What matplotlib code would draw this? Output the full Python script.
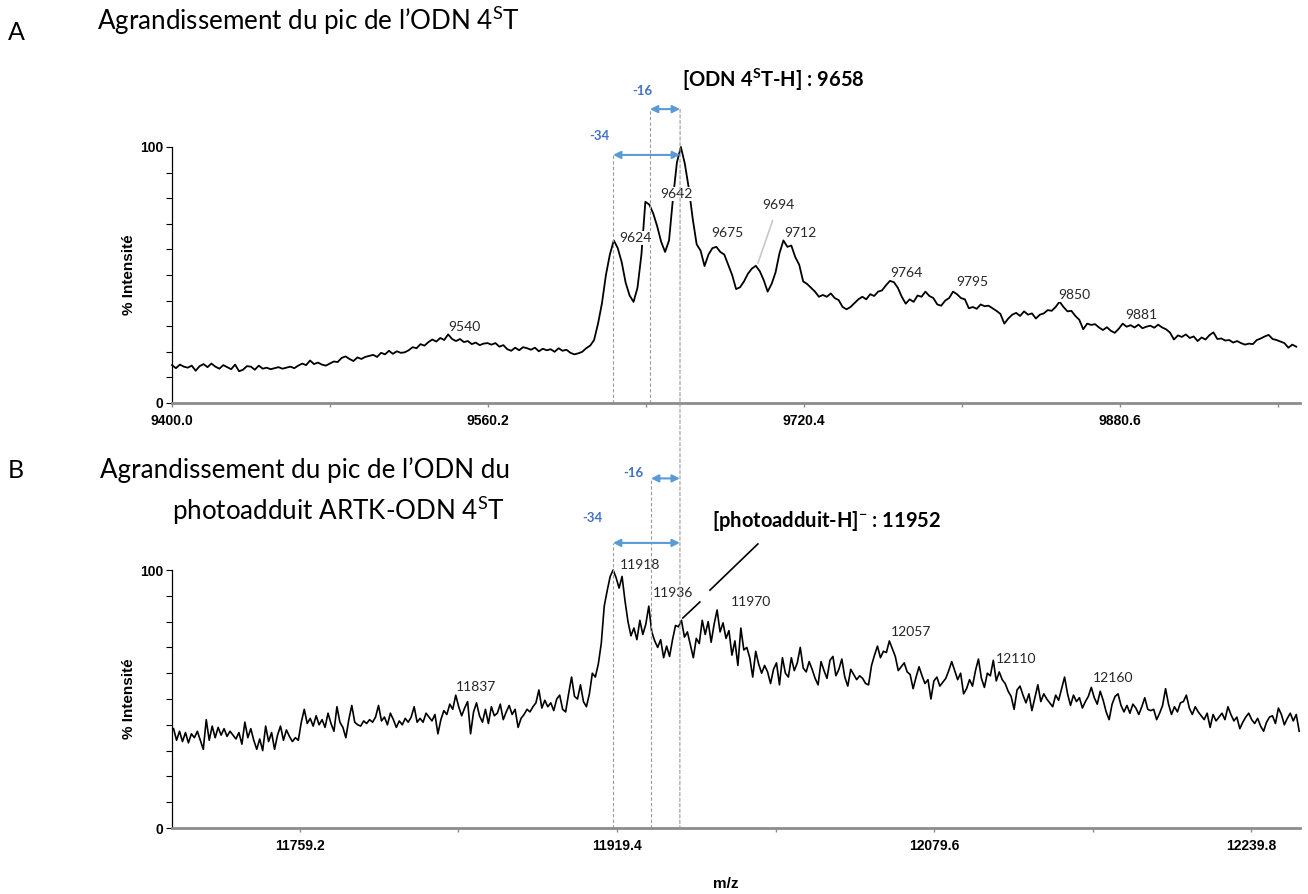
import numpy as np
import matplotlib.pyplot as plt
from matplotlib.patches import ConnectionPatch

plt.rcParams['font.family'] = ['Lato', 'DejaVu Sans']
plt.rcParams['mathtext.fontset'] = 'custom'
plt.rcParams['mathtext.rm'] = 'Lato'
plt.rcParams['mathtext.bf'] = 'Lato:bold'

# ---- spectrum A: ODN 4ST, sampled every 2 m/z from 9400 ----
int_a = [
    14.8, 13.6, 15.0, 14.2, 13.8, 14.6, 12.6, 14.4, 15.2, 14.0,
    15.4, 14.2, 13.4, 14.8, 14.0, 13.2, 15.0, 12.4, 13.0, 14.4,
    14.2, 13.0, 14.6, 13.4, 13.8, 13.2, 13.6, 14.0, 13.4, 13.8,
    14.2, 13.6, 14.6, 15.4, 14.8, 16.6, 15.2, 15.8, 15.0, 14.6,
    15.4, 16.2, 16.0, 17.6, 18.2, 17.2, 16.4, 17.8, 17.2, 18.0,
    18.4, 18.8, 18.0, 19.6, 19.0, 20.4, 19.2, 20.2, 19.6, 19.8,
    20.6, 21.8, 21.4, 23.0, 22.4, 23.8, 24.8, 24.0, 25.4, 24.6,
    26.8, 25.0, 24.2, 25.0, 23.8, 24.2, 23.0, 23.6, 22.6, 23.2,
    23.4, 22.8, 23.4, 22.0, 22.6, 21.0, 20.4, 21.6, 20.6, 21.8,
    21.4, 20.8, 21.6, 20.2, 21.2, 20.6, 21.0, 20.0, 21.4, 20.4,
    20.8, 19.6, 19.0, 19.4, 20.0, 21.4, 22.4, 24.6, 31.0, 39.0,
    50.0, 58.0, 63.5, 60.5, 55.0, 47.0, 42.0, 39.5, 45.0, 58.0,
    78.6, 77.5, 74.0, 69.0, 63.0, 59.0, 63.5, 80.0, 94.0, 100.0,
    93.5, 84.0, 72.0, 62.0, 59.5, 53.5, 58.0, 60.5, 61.0, 59.0,
    58.0, 54.0, 50.0, 44.5, 45.2, 47.5, 50.5, 52.5, 53.6, 51.5,
    48.0, 43.5, 46.5, 51.0, 58.5, 63.5, 61.0, 61.5, 57.0, 54.0,
    47.5, 46.5, 45.0, 43.5, 41.5, 42.2, 41.5, 42.8, 41.0, 40.2,
    37.5, 36.6, 37.5, 39.0, 40.5, 41.5, 40.5, 42.5, 41.8, 43.5,
    44.0, 46.0, 47.7, 47.2, 45.0, 41.5, 38.8, 40.5, 39.5, 42.0,
    41.5, 43.5, 41.8, 41.0, 38.5, 38.0, 40.0, 41.0, 43.5, 42.5,
    41.0, 40.5, 37.0, 37.5, 36.8, 38.5, 37.8, 38.0, 37.0, 36.0,
    34.8, 31.0, 33.0, 34.5, 35.2, 34.0, 35.8, 34.5, 35.0, 33.0,
    34.5, 35.0, 36.3, 36.0, 37.5, 39.6, 37.5, 35.8, 36.0, 34.0,
    32.5, 28.8, 31.0, 30.5, 30.8, 29.5, 28.5, 29.6, 28.2, 27.4,
    29.0, 31.0, 29.8, 30.4, 29.5, 30.6, 29.2, 29.8, 30.2, 29.4,
    30.6, 29.5, 28.8, 27.5, 24.8, 26.4, 25.8, 26.8, 25.4, 26.0,
    24.2, 25.6, 24.8, 26.5, 27.6, 25.0, 25.2, 24.4, 24.6, 23.6,
    24.2, 23.4, 22.8, 23.2, 23.0, 24.6, 25.2, 26.0, 26.6, 25.0,
    24.6, 24.0, 23.4, 21.6, 22.8, 22.0,
]
mz_a = 9400.0 + 2.0 * np.arange(len(int_a))

# ---- spectrum B: photoadduct ARTK-ODN 4ST, sampled every 1.5 m/z ----
int_b = [
    38.5, 34.0, 37.5, 33.5, 37.0, 33.0, 36.5, 35.0, 37.5, 34.0,
    30.5, 42.0, 34.0, 39.5, 35.0, 39.0, 36.0, 38.5, 35.5, 37.5,
    36.0, 34.5, 37.0, 32.5, 41.0, 35.0, 38.5, 34.0, 30.5, 34.5,
    30.0, 39.5, 33.5, 37.0, 30.5, 36.0, 39.5, 34.0, 38.0, 35.5,
    33.5, 35.0, 34.0, 41.0, 46.0, 40.5, 42.5, 39.5, 43.5, 40.0,
    42.0, 39.0, 44.5, 40.5, 37.5, 47.0, 41.0, 39.0, 35.0, 42.0,
    47.5, 41.0, 40.0, 39.5, 41.5, 40.5, 42.0, 41.0, 43.0, 47.5,
    41.5, 43.0, 40.0, 44.5, 42.0, 39.0, 41.5, 40.0, 42.5, 41.0,
    43.0, 47.0, 41.0, 42.5, 41.0, 44.5, 43.0, 41.5, 44.0, 36.5,
    42.0, 45.5, 44.0, 48.0, 46.0, 51.5, 47.0, 43.5, 46.5, 49.0,
    36.5, 45.0, 48.5, 43.5, 41.0, 46.0, 40.5, 47.0, 43.5, 44.5,
    48.0, 42.0, 45.0, 47.5, 44.0, 46.0, 39.0, 42.5, 44.0, 46.0,
    45.0, 47.0, 48.5, 53.5, 46.5, 49.5, 47.0, 48.5, 45.5, 50.0,
    51.5, 46.0, 45.0, 52.0, 58.5, 51.0, 50.0, 55.5, 49.0, 47.0,
    52.0, 60.0, 58.5, 63.5, 71.5, 86.0, 92.0, 97.5, 100.0, 97.0,
    93.0, 97.5, 88.0, 80.0, 74.5, 77.5, 73.0, 80.5, 75.0, 79.0,
    86.0, 76.0, 72.5, 70.0, 73.0, 66.0, 70.5, 66.5, 73.0, 78.5,
    78.0, 80.5, 74.0, 76.0, 71.0, 66.0, 73.5, 71.5, 80.5, 75.0,
    80.0, 72.0, 79.0, 84.5, 76.0, 79.5, 73.5, 76.5, 67.0, 72.5,
    63.0, 77.5, 69.0, 70.0, 66.0, 58.5, 68.5, 63.5, 60.0, 63.0,
    60.5, 56.0, 61.5, 64.0, 55.5, 66.0, 60.0, 58.5, 66.0, 61.0,
    64.0, 70.0, 62.0, 60.5, 64.5, 61.5, 58.0, 55.5, 64.5, 61.0,
    58.0, 65.0, 66.5, 59.0, 61.5, 65.5, 58.5, 55.0, 61.5, 59.5,
    57.5, 59.0, 58.0, 56.0, 55.5, 63.0, 67.0, 70.5, 66.0, 68.5,
    68.0, 72.5, 69.5, 66.5, 61.0, 62.5, 64.0, 60.5, 59.5, 54.0,
    58.5, 62.5, 59.0, 56.0, 57.5, 50.0, 57.0, 58.5, 55.0, 56.5,
    58.0, 61.0, 64.5, 61.0, 57.5, 60.0, 52.0, 54.0, 57.5, 55.0,
    61.0, 65.5, 58.0, 54.5, 60.0, 59.0, 65.0, 57.0, 60.5, 57.5,
    56.0, 53.0, 51.0, 46.0, 53.5, 55.0, 51.5, 48.5, 52.0, 45.5,
    50.5, 55.5, 49.0, 52.0, 50.0, 48.5, 47.0, 51.5, 49.5, 54.0,
    58.5, 52.0, 47.5, 51.5, 49.0, 50.5, 46.5, 49.0, 51.0, 54.5,
    50.5, 48.0, 53.0, 49.5, 45.0, 42.0, 48.0, 51.0, 52.0, 47.5,
    45.0, 47.5, 44.5, 48.0, 46.5, 44.0, 47.0, 50.5, 46.0, 45.5,
    46.0, 42.0, 44.5, 47.5, 54.0, 48.0, 44.0, 47.0, 45.0, 48.5,
    49.0, 51.5, 46.5, 44.0, 47.0, 45.0, 43.5, 42.0, 44.5, 39.0,
    44.0, 41.5, 43.0, 44.5, 42.0, 47.0, 44.0, 41.5, 43.0, 38.5,
    41.0, 43.0, 44.5, 42.0, 40.5, 42.5, 39.5, 37.5, 41.0, 43.0,
    43.5, 40.5, 46.5, 44.0, 40.0, 42.5, 44.5, 41.5, 44.0, 37.5,
]
mz_b = 11695.5 + 1.5 * np.arange(len(int_b))

# axis ranges and ticks
xlim_a = (9400.0, 9971.9)
xlim_b = (11694.7, 12264.4)
ticks_a = [9400.0, 9560.2, 9720.4, 9880.6]
ticks_b = [11759.2, 11919.4, 12079.6, 12239.8]

# peak labels (text, x, y of label)
labels_a = [("9540", 9548.3, 29.8), ("9624", 9635.2, 64.5), ("9642", 9655.5, 81.6),
            ("9675", 9681.4, 66.4), ("9694", 9707.2, 77.3), ("9712", 9718.6, 66.5),
            ("9764", 9772.1, 50.8), ("9795", 9805.6, 47.3), ("9850", 9857.3, 42.2),
            ("9881", 9891.3, 34.4)]
labels_b = [("11918", 11931.0, 101.9), ("11936", 11947.7, 91.1), ("11837", 11848.0, 54.8),
            ("11970", 11987.1, 87.7), ("12057", 12067.9, 76.0), ("12110", 12120.9, 65.5),
            ("12160", 12170.2, 58.1)]

# mass differences marked with arrows
marks_a = [9623.6, 9642.3, 9657.6]
marks_b = [11917.4, 11936.6, 11951.2]

BLUE_TXT = '#4472c4'
BLUE_ARR = '#5b9bd5'
DASH = '#9a9a9a'
AXFONT = 'Liberation Sans'

fig = plt.figure(figsize=(13.08, 8.94), dpi=100)
W, H = 1308.0, 894.0
ax_a = fig.add_axes([172 / W, 1 - 403 / H, 1128 / W, 256 / H])
ax_b = fig.add_axes([172 / W, 1 - 828 / H, 1128 / W, 258 / H])


def style_axes(ax, xlim, ticks):
    ax.spines['top'].set_visible(False)
    ax.spines['right'].set_visible(False)
    ax.spines['bottom'].set_color('#8c8c8c')
    ax.spines['bottom'].set_linewidth(2)
    ax.spines['left'].set_linewidth(0.9)
    ax.set_xticks(ticks)
    ax.set_xticklabels([f'{t:.1f}' for t in ticks], fontfamily=AXFONT,
                       fontweight='bold', fontsize=10)
    step = ticks[1] - ticks[0]
    ax.set_xticks([t - step / 2 for t in ticks] + [ticks[-1] + step / 2], minor=True)
    ax.tick_params(axis='x', which='both', length=3, width=1, color='#8c8c8c', pad=5)
    ax.set_yticks([0, 100])
    ax.set_yticklabels(['0', '100'], fontfamily=AXFONT, fontweight='bold', fontsize=10)
    ax.set_yticks(np.arange(10, 100, 10), minor=True)
    ax.tick_params(axis='y', which='both', length=4, width=0.8, pad=2)
    ax.set_ylabel('% Intensité', fontfamily=AXFONT, fontweight='bold', fontsize=11)
    ax.yaxis.set_label_coords(-36 / 1128, 0.5)
    # limits last, so the tick lists cannot widen them
    ax.set_xlim(*xlim)
    ax.set_ylim(0, 100)


style_axes(ax_a, xlim_a, ticks_a)
style_axes(ax_b, xlim_b, ticks_b)

ax_a.plot(mz_a, int_a, color='black', lw=1.3, clip_on=False)
ax_b.plot(mz_b, int_b, color='black', lw=1.2, clip_on=False)

# peak labels in A sit on a white patch so they mask the trace behind them
for txt, x, y in labels_a:
    ax_a.text(x, y, txt, fontsize=10, color='#262626', ha='center', va='center',
              bbox=dict(facecolor='white', edgecolor='none', pad=0.5), zorder=3)
for txt, x, y in labels_b:
    ax_b.text(x, y, txt, fontsize=10, color='#262626', ha='center', va='center')


def dashed(ax, x, y_top):
    ax.plot([x, x], [0, y_top], color=DASH, lw=0.8, ls=(0, (3, 2)), clip_on=False)


def span_arrow(ax, x1, x2, y):
    ax.annotate('', xy=(x2, y), xytext=(x1, y), annotation_clip=False,
                arrowprops=dict(arrowstyle='<|-|>', color=BLUE_ARR, lw=1.5,
                                mutation_scale=11, shrinkA=0, shrinkB=0))


# panel A differences
dashed(ax_a, marks_a[0], 96.9)
dashed(ax_a, marks_a[1], 114.8)
span_arrow(ax_a, marks_a[1], marks_a[2], 114.8)
span_arrow(ax_a, marks_a[0], marks_a[2], 96.9)
ax_a.text(9638.3, 121.9, '-16', color=BLUE_TXT, fontsize=9.5, fontweight='bold',
          ha='center', va='center')
ax_a.text(9616.5, 104.3, '-34', color=BLUE_TXT, fontsize=9.5, fontweight='bold',
          ha='center', va='center')
ax_a.text(9658.6, 126.2, r'[ODN 4$^{\mathbf{S}}$T-H] : 9658', fontsize=14.5,
          fontweight='bold', ha='left', va='center')
ax_a.plot([9704.5, 9697.1], [71.2, 54.7], color='#c8c8c8', lw=1.2)

# panel B differences
dashed(ax_b, marks_b[0], 110.5)
dashed(ax_b, marks_b[1], 135.5)
span_arrow(ax_b, marks_b[1], marks_b[2], 135.5)
span_arrow(ax_b, marks_b[0], marks_b[2], 110.5)
ax_b.text(11927.5, 137.6, '-16', color=BLUE_TXT, fontsize=9.5, fontweight='bold',
          ha='center', va='center')
ax_b.text(11906.8, 120.2, '-34', color=BLUE_TXT, fontsize=9.5, fontweight='bold',
          ha='center', va='center')
ax_b.text(11967.4, 119.0, r'[photoadduit-H]$^{\mathbf{-}}$ : 11952', fontsize=14.5,
          fontweight='bold', ha='left', va='center')
ax_b.plot([11990.6, 11966.4], [110.1, 92.2], color='black', lw=1.2, clip_on=False)
ax_b.plot([11961.3, 11952.7], [87.6, 81.4], color='black', lw=1.2, clip_on=False)

# the parent-ion line runs through both panels
con = ConnectionPatch(xyA=(marks_a[2], 114.8), coordsA=ax_a.transData,
                      xyB=(marks_b[2], 0), coordsB=ax_b.transData,
                      color=DASH, lw=0.8, ls=(0, (3, 2)))
fig.add_artist(con)

# panel titles
fig.text(8 / W, 1 - 32 / H, 'A', fontsize=18, va='center', ha='left')
fig.text(97 / W, 1 - 20 / H, 'Agrandissement du pic de l’ODN 4$^{\\mathrm{S}}$T',
         fontsize=18.7, va='center', ha='left')
fig.text(8 / W, 1 - 470 / H, 'B', fontsize=18, va='center', ha='left')
fig.text(100 / W, 1 - 470 / H, 'Agrandissement du pic de l’ODN du',
         fontsize=18.7, va='center', ha='left')
fig.text(505 / W, 1 - 510 / H, 'photoadduit ARTK-ODN 4$^{\\mathrm{S}}$T',
         fontsize=18.7, va='center', ha='right')

fig.text(726 / W, 1 - 884 / H, 'm/z', fontfamily=AXFONT, fontweight='bold',
         fontsize=11, ha='center', va='center')

fig.savefig('out.png', dpi=100)
